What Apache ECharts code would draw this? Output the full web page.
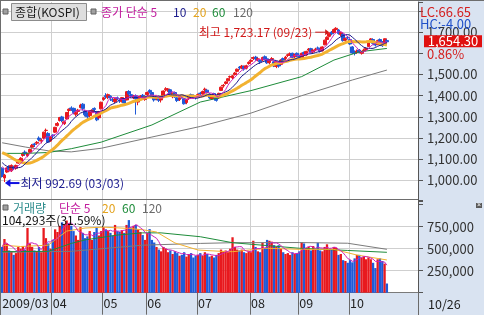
<!DOCTYPE html>
<html><head><meta charset="utf-8">
<script src="https://cdn.jsdelivr.net/npm/echarts@6.0.0/dist/echarts.min.js"></script>
<style>html,body{margin:0;padding:0;background:#fff;overflow:hidden}#c{width:484px;height:315px}</style>
</head><body><div id="c"></div>
<script>
// ---------- DATA ----------
const firstMonthLabel = '2009/03';
const tradingDays = [
  ['03',[2,3,4,5,6,9,10,11,12,13,16,17,18,19,20,23,24,25,26,27,30,31]],
  ['04',[1,2,3,6,7,8,9,10,13,14,15,16,17,20,21,22,23,24,27,28,29,30]],
  ['05',[4,6,7,8,11,12,13,14,15,18,19,20,21,22,25,26,27,28,29]],
  ['06',[1,2,3,4,5,8,9,10,11,12,15,16,17,18,19,22,23,24,25,26,29,30]],
  ['07',[1,2,3,6,7,8,9,10,13,14,15,16,17,20,21,22,23,24,27,28,29,30,31]],
  ['08',[3,4,5,6,7,10,11,12,13,14,17,18,19,20,21,24,25,26,27,28,31]],
  ['09',[1,2,3,4,7,8,9,10,11,14,15,16,17,18,21,22,23,24,25,28,29,30]],
  ['10',[1,5,6,7,8,9,12,13,14,15,16,19,20,21,22,23,26]]
];
const lastDateLabel = '10/26';

// [open, close, low, high]
const candles = [
 [1058,1018.8,1014,1062],[1012,1025.6,992.69,1031],[1040,1059.3,1036,1062],[1066,1054,1048,1072],[1046,1071.1,1040,1076],
 [1064,1056,1049,1070],[1058,1071,1051,1075],[1082,1096,1079,1100],[1092,1105,1088,1110],[1118,1127,1112,1133],
 [1134,1125,1118,1142],[1117,1126,1110,1131],[1133,1146,1128,1150],[1157,1165,1150,1172],[1172,1170,1158,1178],
 [1176,1180,1168,1186],[1200,1193,1185,1208],[1186,1189,1175,1198],[1200,1228,1196,1230],[1236,1237,1226,1245],
 [1222,1181,1178,1228],[1186,1206.3,1182,1210],
 [1214,1210,1198,1218],[1228,1251,1224,1253],[1260,1269,1255,1276],[1283,1297,1278,1300],[1300,1283,1275,1305],
 [1268,1277,1262,1283],[1290,1321,1288,1322],[1330,1336,1318,1340],[1342,1338,1328,1350],[1340,1320,1312,1344],
 [1312,1320,1302,1326],[1326,1332,1315,1338],[1344,1356,1340,1362],[1360,1340,1330,1365],[1328,1310,1302,1334],
 [1316,1301,1290,1322],[1306,1327,1298,1330],[1320,1331,1312,1336],[1340,1335,1322,1345],[1325,1286,1280,1328],
 [1296,1324,1290,1328],[1338,1369,1335,1372],
 [1382,1390,1376,1395],[1400,1395,1385,1412],[1392,1405,1384,1410],[1398,1390,1375,1402],[1382,1378,1370,1390],
 [1372,1385,1365,1390],[1390,1387,1378,1396],[1380,1377,1366,1388],[1372,1391,1368,1394],[1384,1366,1358,1388],
 [1380,1419,1378,1422],[1420,1410,1402,1426],[1405,1397,1390,1412],[1390,1398,1384,1404],[1400,1385,1311,1406],
 [1370,1380,1355,1386],[1385,1398,1378,1403],[1402,1389,1382,1408],[1382,1395,1376,1398],
 [1405,1415,1400,1420],[1425,1418,1410,1430],[1415,1400,1395,1420],[1392,1380,1372,1396],[1385,1395,1378,1400],
 [1398,1378,1370,1402],[1380,1388,1368,1392],[1395,1422,1392,1425],[1428,1433,1420,1440],[1426,1432,1418,1436],
 [1428,1398,1394,1430],[1395,1412,1388,1415],[1415,1395,1390,1420],[1390,1377,1370,1395],[1382,1390,1375,1395],
 [1398,1395,1386,1404],[1386,1362,1358,1390],[1368,1382,1360,1386],[1388,1397,1380,1400],[1405,1400,1394,1410],
 [1400,1393,1385,1406],[1395,1390,1382,1400],
 [1395,1405,1390,1410],[1412,1410,1400,1418],[1408,1420,1402,1424],[1428,1431,1420,1438],[1426,1415,1410,1430],
 [1408,1390,1385,1412],[1385,1405,1380,1408],[1410,1398,1392,1414],[1392,1378,1372,1396],[1390,1411,1385,1414],
 [1425,1440,1422,1443],[1446,1449,1438,1455],[1458,1465,1452,1468],[1470,1480,1466,1483],[1488,1490,1480,1495],
 [1484,1494,1478,1498],[1500,1507,1495,1512],[1515,1525,1510,1528],[1535,1531,1522,1540],[1530,1540,1525,1545],
 [1538,1526,1518,1542],[1530,1541,1524,1546],[1552,1557,1546,1562],
 [1562,1567,1555,1572],[1576,1580,1568,1585],[1582,1573,1565,1588],[1570,1574,1562,1580],[1566,1560,1550,1570],
 [1568,1580,1562,1584],[1584,1571,1566,1590],[1574,1555,1550,1578],[1556,1568,1548,1572],[1572,1575,1565,1582],
 [1560,1541,1535,1564],[1538,1560,1530,1564],[1558,1540,1532,1562],[1548,1568,1545,1572],[1575,1567,1560,1580],
 [1575,1582,1568,1588],[1590,1593,1582,1598],[1596,1598,1588,1604],[1600,1581,1576,1603],[1584,1595,1578,1598],
 [1600,1591,1584,1604],
 [1585,1583,1575,1594],[1578,1600,1572,1603],[1604,1597,1590,1608],[1592,1609,1588,1612],[1615,1620,1608,1625],
 [1622,1605,1600,1626],[1606,1615,1598,1618],[1618,1620,1610,1626],[1625,1624,1615,1632],[1620,1610,1604,1624],
 [1612,1630,1608,1633],[1640,1662,1638,1664],[1665,1675,1660,1680],[1680,1695,1676,1698],[1700,1692,1685,1705],
 [1698,1712,1695,1716],[1712,1718,1705,1723.17],[1710,1693,1688,1714],[1688,1697,1680,1702],[1690,1660,1655,1693],
 [1662,1669,1652,1675],[1675,1673,1665,1682],
 [1665,1644,1640,1670],[1630,1602,1596,1634],[1606,1599,1590,1614],[1604,1611,1598,1618],[1615,1606,1600,1620],
 [1600,1606,1594,1612],[1612,1615,1605,1622],[1618,1623,1610,1628],[1632,1656,1630,1660],[1660,1668,1652,1672],
 [1665,1647,1642,1670],[1650,1639,1632,1656],[1642,1660,1638,1664],[1665,1655,1648,1670],[1652,1636,1630,1658],
 [1640,1668.6,1638,1670],[1660,1654.3,1650,1666]
];
// closes of the 20 sessions before the visible range (for the moving averages)
const priorCloses = [1126,1128,1164,1181,1197,1197,1198,1178,1171,1199,1176,1127,1129,1108,1066,1088,1079,1074,1093,1063];

const volumes = [
 520000,610000,560000,480000,470000,430000,450000,520000,500000,530000,490000,735000,560000,520000,480000,470000,520000,460000,735000,620000,560000,500000,
 600000,720000,690000,760000,800000,780000,820000,790000,760000,700000,650000,600000,745000,680000,620000,640000,700000,600000,690000,745000,650000,700000,
 745000,720000,700000,680000,650000,770000,700000,690000,710000,680000,770000,825000,740000,760000,770000,720000,690000,655000,600000,
 680000,723000,600000,570000,520000,490000,470000,520000,500000,460000,480000,440000,470000,450000,420000,430000,460000,410000,440000,450000,400000,420000,
 430000,450000,420000,460000,440000,410000,420000,400000,430000,450000,490000,470000,480000,460000,500000,630000,520000,490000,480000,490000,460000,450000,470000,
 460000,590000,520000,470000,460000,568000,510000,600000,590000,580000,540000,520000,540000,500000,460000,440000,450000,430000,460000,440000,450000,
 470000,575000,560000,500000,520000,480000,530000,490000,568000,480000,470000,520000,550000,500000,490000,520000,510000,430000,440000,370000,360000,340000,
 370000,345000,390000,430000,430000,400000,410000,380000,400000,380000,340000,280000,380000,390000,360000,330150,104293
];

// longer moving averages: [session index, value]
const ma60Points  = [[0,1128],[10,1128],[20,1132],[30,1150],[43,1181],[65,1262],[86,1370],[108,1424],[130,1490],[144,1568],[155,1607],[167,1623]];
const ma120Points = [[0,1178],[10,1158],[20,1140],[30,1135],[43,1152],[65,1205],[86,1255],[108,1318],[130,1400],[152,1474],[167,1521]];
const volMa20Points  = [[0,540000],[8,525000],[20,540000],[28,700000],[36,735000],[44,745000],[55,730000],[61,715000],[67,690000],[75,565000],[85,485000],[95,470000],[100,466000],[115,505000],[129,493000],[144,493000],[154,428000],[167,372000]];
const volMa60Points  = [[0,466000],[20,470000],[30,560000],[36,600000],[50,655000],[61,680000],[69,680000],[86,636000],[100,568000],[129,505000],[150,480000],[167,459000]];
const volMa120Points = [[0,460000],[30,470000],[61,540000],[86,560000],[100,568000],[129,570000],[150,562000],[167,493000]];

const priceTickLabels  = [1000,1100,1200,1300,1400,1500,1700];
const volumeTickLabels = [250000,500000,750000];
const headerLC = 'LC:66.65', headerHC = 'HC:-4.00', changePct = '0.86%';

// ---------- CHART ----------
const FONT = "'Liberation Sans Narrow','Noto Sans CJK KR','Noto Sans',sans-serif";
const KFONT = "'Liberation Sans Narrow','Noto Sans CJK KR',sans-serif";
const UP = '#e8191e', DOWN = '#1f5ad8';
const PANEL = '#d9e3f1';
const GRIDC = '#cfcfcf';
const dates = tradingDays.flatMap(([m, ds]) => ds.map(d => m + '/' + String(d).padStart(2, '0')));
const N = dates.length;
const PAD = 13;
const cats = dates.concat(Array.from({length: PAD}, (_, i) => 'pad' + i));
const isMonthStart = i => i > 0 && i < N && dates[i].slice(0, 2) !== dates[i - 1].slice(0, 2);
const fmt2 = v => v.toLocaleString('en-US', {minimumFractionDigits: 2, maximumFractionDigits: 2});
const fmt0 = v => v.toLocaleString('en-US');

const closes = candles.map(c => c[1]);
function sma(arr, prefix, n) {
  const full = prefix.concat(arr), p = prefix.length;
  return arr.map((_, i) => {
    const e = p + i, s = Math.max(0, e - n + 1);
    let t = 0; for (let k = s; k <= e; k++) t += full[k];
    return +(t / (e - s + 1)).toFixed(2);
  });
}
const ma5 = sma(closes, priorCloses, 5), ma10 = sma(closes, priorCloses, 10), ma20 = sma(closes, priorCloses, 20);
const vma5 = sma(volumes, [], 5);
const volData = volumes.map((v, i) => ({value: v, itemStyle: {color: candles[i][1] >= candles[i][0] ? UP : DOWN}}));

const priceSplitColors = [0,1,2,3,4,5,6,7,8,9,10].map(i => i === 0 || i === 10 ? 'rgba(0,0,0,0)' : GRIDC);
const volSplitColors = [GRIDC, GRIDC, GRIDC, GRIDC, 'rgba(0,0,0,0)', 'rgba(0,0,0,0)'];

const line = (name, data, color, w, xi, yi, z) => ({
  name, type: 'line', data, xAxisIndex: xi, yAxisIndex: yi, showSymbol: false, symbol: 'none',
  connectNulls: true, lineStyle: {color, width: w}, z: z || 3, silent: true, animation: false
});

const chart = echarts.init(document.getElementById('c'), null, {renderer: 'canvas'});
chart.setOption({
  animation: false,
  backgroundColor: '#ffffff',
  grid: [
    {left: 1, width: 417, top: 2, height: 199.7, outerBoundsMode: 'none'},
    {left: 1, width: 417, top: 200, height: 92.7, outerBoundsMode: 'none'}
  ],
  xAxis: [
    {gridIndex: 0, type: 'category', data: cats, boundaryGap: true,
     axisLine: {show: false}, axisTick: {show: false}, axisLabel: {show: false},
     splitLine: {show: true, interval: (i) => isMonthStart(i), lineStyle: {color: GRIDC, width: 1}}},
    {gridIndex: 1, type: 'category', data: cats, boundaryGap: true,
     axisLine: {show: true, lineStyle: {color: '#7a7a7a'}},
     axisTick: {show: true, inside: false, length: 22, interval: (i) => isMonthStart(i), lineStyle: {color: '#6a6a6a'}},
     axisLabel: {show: true, interval: (i) => i === 0 || isMonthStart(i), align: 'left', margin: 4,
       fontSize: 12.5, fontFamily: FONT, color: '#222',
       formatter: (v, i) => i === 0 ? firstMonthLabel : (i < N ? v.slice(0, 2) : '')},
     splitLine: {show: true, interval: (i) => isMonthStart(i), lineStyle: {color: GRIDC, width: 1}}}
  ],
  yAxis: [
    {gridIndex: 0, type: 'value', position: 'right', min: 900, max: 1842, interval: 100, scale: false,
     axisLine: {show: true, lineStyle: {color: '#555'}},
     axisTick: {show: true, inside: false, length: 5, lineStyle: {color: '#555'}},
     axisLabel: {margin: 9, fontSize: 13, fontFamily: FONT, color: '#333',
       formatter: v => priceTickLabels.includes(v) ? fmt2(v) : ''},
     splitLine: {show: true, lineStyle: {color: priceSplitColors, width: 1}}},
    {gridIndex: 1, type: 'value', position: 'right', min: 0, max: 1053409, interval: 250000,
     axisLine: {show: true, lineStyle: {color: '#555'}},
     axisTick: {show: true, inside: false, length: 5, lineStyle: {color: '#555'}},
     axisLabel: {margin: 9, fontSize: 13, fontFamily: FONT, color: '#333',
       formatter: v => volumeTickLabels.includes(v) ? fmt0(v) : ''},
     splitLine: {show: true, lineStyle: {color: volSplitColors, width: 1}}}
  ],
  series: [
    {name: 'KOSPI', type: 'candlestick', data: candles, xAxisIndex: 0, yAxisIndex: 0, barWidth: 3.4, barMaxWidth: 4,
     itemStyle: {color: UP, color0: DOWN, borderColor: UP, borderColor0: DOWN, borderWidth: 1}, z: 2, silent: true},
    line('MA120', ma120Points, '#7b7b7b', 1, 0, 0),
    line('MA60', ma60Points, '#1e8c3a', 1, 0, 0),
    line('MA20', ma20, '#f2b230', 3, 0, 0),
    line('MA10', ma10, '#1c1c8c', 1, 0, 0),
    line('MA5', ma5, '#cc22bb', 1, 0, 0),
    {name: 'Volume', type: 'bar', data: volData, xAxisIndex: 1, yAxisIndex: 1, barWidth: 2.3, z: 2, silent: true},
    line('VMA120', volMa120Points, '#7b7b7b', 1, 1, 1),
    line('VMA60', volMa60Points, '#1e8c3a', 1, 1, 1),
    line('VMA20', volMa20Points, '#f2b230', 1, 1, 1),
    line('VMA5', vma5, '#cc22bb', 1, 1, 1)
  ]
});

// ---------- annotations placed through the axes ----------
const g = [];
const txt = (x, y, text, fill, opt) => Object.assign({type: 'text', x, y, silent: true, z: 50,
  style: Object.assign({text, fill, font: '12px ' + KFONT, textVerticalAlign: 'middle', verticalAlign: 'middle'}, opt || {})}, {});
g.push({type: 'rect', shape: {x: 418, y: 0, width: 66, height: 315}, style: {fill: PANEL}, z: -10, silent: true});
g.push({type: 'rect', shape: {x: 0, y: 293, width: 418, height: 22}, style: {fill: PANEL}, z: -10, silent: true});
g.push({type: 'line', shape: {x1: 0, y1: 0.5, x2: 484, y2: 0.5}, style: {stroke: '#6d6d6d', lineWidth: 1}, z: 40, silent: true});
g.push({type: 'line', shape: {x1: 0.5, y1: 0, x2: 0.5, y2: 315}, style: {stroke: '#6d6d6d', lineWidth: 1}, z: 40, silent: true});
g.push({type: 'line', shape: {x1: 0, y1: 199.5, x2: 418, y2: 199.5}, style: {stroke: '#6d6d6d', lineWidth: 1}, z: 40, silent: true});
g.push({type: 'line', shape: {x1: 418.5, y1: 292, x2: 418.5, y2: 315}, style: {stroke: '#6a6a6a', lineWidth: 1}, z: 40, silent: true});

// price header
g.push({type: 'rect', shape: {x: 3, y: 9, width: 5, height: 5}, style: {fill: '#a0a0a0', stroke: '#606060', lineWidth: 1}, z: 45, silent: true});
g.push({type: 'rect', shape: {x: 11.5, y: 3.5, width: 75, height: 17}, style: {fill: '#dedede', stroke: '#8c8c8c', lineWidth: 1}, z: 45, silent: true});
g.push(txt(15, 12.5, '종합(KOSPI)', '#1a1a1a'));
g.push({type: 'rect', shape: {x: 91, y: 9, width: 5, height: 5}, style: {fill: '#a0a0a0', stroke: '#606060', lineWidth: 1}, z: 45, silent: true});
g.push(txt(101, 12.5, '종가 단순 5', '#c21d9e'));
g.push(txt(173, 12.5, '10', '#1c1c8c'));
g.push(txt(193, 12.5, '20', '#e3a21c'));
g.push(txt(212, 12.5, '60', '#1e8c3a'));
g.push(txt(233, 12.5, '120', '#6a6a6a'));

// volume header
g.push({type: 'rect', shape: {x: 3, y: 205, width: 5, height: 5}, style: {fill: '#a0a0a0', stroke: '#606060', lineWidth: 1}, z: 45, silent: true});
g.push(txt(13, 208, '거래량', '#2d8c8c'));
g.push(txt(59, 208, '단순 5', '#c21d9e'));
g.push(txt(102, 208, '20', '#e3a21c'));
g.push(txt(122, 208, '60', '#1e8c3a'));
g.push(txt(142, 208, '120', '#6a6a6a'));
const lastVol = volumes[N - 1], prevVol = volumes[N - 2];
g.push(txt(2, 220, fmt0(lastVol) + '주(' + (lastVol / prevVol * 100).toFixed(2) + '%)', '#111'));

// right panel texts
g.push(txt(420, 12, headerLC, '#d42020', {font: '13px ' + FONT}));
g.push(txt(420, 24, headerHC, '#2050c8', {font: '13px ' + FONT}));
g.push(txt(427, 54, changePct, '#d42020', {font: '13px ' + FONT}));
g.push({type: 'rect', shape: {x: 476, y: 203, width: 6, height: 5}, style: {fill: '#5a5a5a'}, z: 45, silent: true});
g.push(txt(479, 205.5, '×', '#ffffff', {font: '7px sans-serif', textAlign: 'center', align: 'center'}));
g.push(txt(428, 304, lastDateLabel, '#222', {font: '12.5px ' + FONT}));

// current price box
const lastClose = closes[N - 1];
const pc = chart.convertToPixel({xAxisIndex: 0, yAxisIndex: 0}, [N - 1, lastClose]);
g.push({type: 'rect', shape: {x: 424, y: pc[1] - 6.5, width: 58, height: 12}, style: {fill: '#e01010'}, z: 46, silent: true});
g.push(txt(453, pc[1] - 0.5, fmt2(lastClose), '#ffffff', {font: '13px ' + FONT, textAlign: 'center', align: 'center'}));

// highest / lowest annotations
let hi = 0, lo = 0;
candles.forEach((c, i) => { if (c[3] > candles[hi][3]) hi = i; if (c[2] < candles[lo][2]) lo = i; });
const ph = chart.convertToPixel({xAxisIndex: 0, yAxisIndex: 0}, [hi, candles[hi][3]]);
const pl = chart.convertToPixel({xAxisIndex: 0, yAxisIndex: 0}, [lo, candles[lo][2]]);
const hy = ph[1] + 5;
g.push(txt(ph[0] - 24, hy, '최고 ' + fmt2(candles[hi][3]) + ' (' + dates[hi] + ')', '#d01818', {textAlign: 'right', align: 'right'}));
g.push({type: 'line', shape: {x1: ph[0] - 21, y1: hy, x2: ph[0] - 10, y2: hy}, style: {stroke: '#d01818', lineWidth: 1}, z: 50, silent: true});
g.push({type: 'polygon', shape: {points: [[ph[0] - 7, hy], [ph[0] - 11, hy - 3], [ph[0] - 11, hy + 3]]}, style: {fill: '#d01818'}, z: 50, silent: true});
const ly = pl[1] + 1;
g.push({type: 'polygon', shape: {points: [[pl[0] + 0.5, ly], [pl[0] + 6, ly - 4], [pl[0] + 6, ly + 4]]}, style: {fill: '#1010e0'}, z: 50, silent: true});
g.push({type: 'line', shape: {x1: pl[0] + 5, y1: ly, x2: pl[0] + 15, y2: ly}, style: {stroke: '#1010e0', lineWidth: 2}, z: 50, silent: true});
g.push(txt(pl[0] + 16, ly, '최저 ' + fmt2(candles[lo][2]) + ' (' + dates[lo] + ')', '#1b1b8f'));

chart.setOption({graphic: {elements: g}});
</script>
</body></html>
